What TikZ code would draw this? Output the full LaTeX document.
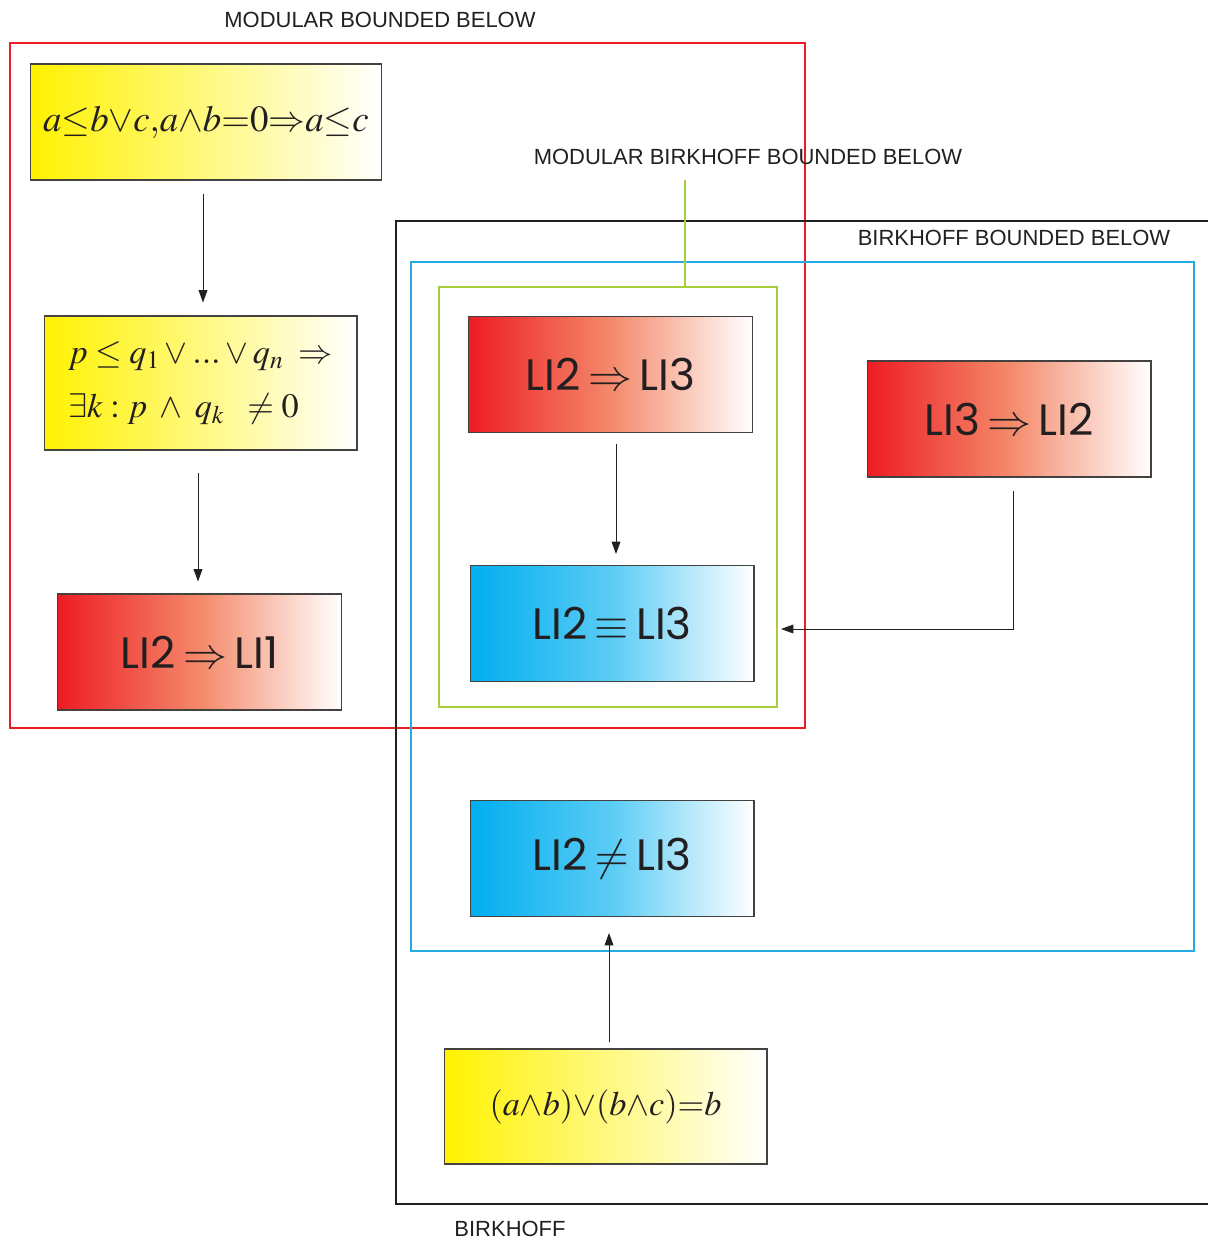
\documentclass[tikz,border=0pt]{standalone}
\usepackage{mathptmx}
\usepackage{fontspec}
\setmainfont{Liberation Sans}
\newfontfamily\lifont{Poppins}
\usetikzlibrary{arrows.meta,calc}
\definecolor{myred}{HTML}{ED1C24}
\definecolor{redmid}{HTML}{F4896A}
\definecolor{myblue}{HTML}{00AEEF}
\definecolor{bluemid}{HTML}{5BCCF5}
\definecolor{myyellow}{HTML}{FFF200}
\definecolor{mygreen}{HTML}{A6CE39}
\definecolor{mycyan}{HTML}{27AAE1}
\definecolor{ink}{HTML}{231F20}
\tikzset{
  px/.style={x=0.02cm,y=-0.02cm},
  box/.style={draw=ink!85,line width=0.6pt,inner sep=0pt,text=ink},
  redbox/.style={box,left color=myred,right color=white,middle color=redmid,minimum width=5.68cm,minimum height=2.32cm,font=\lifont\fontsize{25}{28}\selectfont},
  bluebox/.style={box,left color=myblue,right color=white,middle color=bluemid,minimum width=5.68cm,minimum height=2.32cm,font=\lifont\fontsize{25}{28}\selectfont},
  yelbox/.style={box,left color=myyellow,right color=white,middle color=myyellow!50},
  frame/.style={inner sep=0pt,fill=none},
  lbl/.style={text=ink,font=\fontsize{12.5}{14}\selectfont,inner sep=0pt},
  arr/.style={-{Triangle[length=7pt,width=5pt]},draw=ink,line width=0.5pt},
}
\begin{document}
\begin{tikzpicture}[px]
\useasboundingbox (0,0) rectangle (1207,1239);
% frames
\node[frame,draw=myred,line width=1.2pt,minimum width=15.9cm,minimum height=13.7cm] (redf) at (407.5,385.5) {};
\node[frame,draw=mygreen,line width=1.2pt,minimum width=6.76cm,minimum height=8.4cm] (greenf) at (608,497) {};
\node[frame,draw=mycyan,line width=1.2pt,minimum width=15.66cm,minimum height=13.78cm] (cyanf) at (802.5,606.5) {};
\draw[ink,line width=0.6pt] (1220,221) -- (396,221) -- (396,1204) -- (1220,1204);
% labels
\node[lbl] (lmbb) at (380,20) {MODULAR BOUNDED BELOW};
\node[lbl] (lmbbb) at (748,157) {MODULAR BIRKHOFF BOUNDED BELOW};
\node[lbl] (lbbb) at (1014,238) {BIRKHOFF BOUNDED BELOW};
\node[lbl] (lb) at (510,1229) {BIRKHOFF};
\draw[mygreen,line width=0.6pt] (685,180) -- (greenf.north -| 685,0);
% boxes
\node[yelbox,minimum width=7.04cm,minimum height=2.32cm,font=\fontsize{21}{24}\selectfont] (b1) at (206,122)
  {$a{\le}b{\vee}c{,}a{\wedge}b{=}0{\Rightarrow}a{\le}c$};
\node[yelbox,minimum height=2.68cm,text width=5.3cm,inner xsep=0.48cm,font=\fontsize{19.5}{30}\selectfont,align=left] (b2) at (200.5,383)
  {$p \le q_{1} \vee ...\vee q_{n} \;\Rightarrow$\\[1pt]$\exists k : p \;\wedge\; q_{k} \;\;\neq 0$};
\node[redbox] (b3) at (199.5,652) {LI2\,$\Rightarrow$\,LI1};
\node[redbox] (r23) at (610.5,374.5) {LI2\,$\Rightarrow$\,LI3};
\node[bluebox] (eq) at (612,623.5) {LI2\,$\equiv$\,LI3};
\node[redbox] (r32) at (1009,419) {LI3\,$\Rightarrow$\,LI2};
\node[bluebox] (neq) at (612,858.5) {LI2\,$\neq$\,LI3};
\node[yelbox,minimum width=6.46cm,minimum height=2.3cm,font=\fontsize{19.5}{24}\selectfont] (b4) at (605.5,1106.5)
  {$(a{\wedge}b){\vee}(b{\wedge}c){=}b$};
% connectors
\draw[arr,shorten <=0.26cm,shorten >=0.26cm] (b1.south -| 203,0) -- (b2.north -| 203,0);
\draw[arr,shorten <=0.44cm,shorten >=0.24cm] (b2.south -| 198,0) -- (b3.north -| 198,0);
\draw[arr,shorten <=0.22cm,shorten >=0.22cm] (r23.south -| 616,0) -- (eq.north -| 616,0);
\draw[arr,shorten <=0.26cm,shorten >=0.06cm] (r32.south -| 1013,0) |- (greenf.east |- 0,629);
\draw[arr,shorten <=0.12cm,shorten >=0.32cm] (b4.north -| 609,0) -- (neq.south -| 609,0);
\end{tikzpicture}
\end{document}
